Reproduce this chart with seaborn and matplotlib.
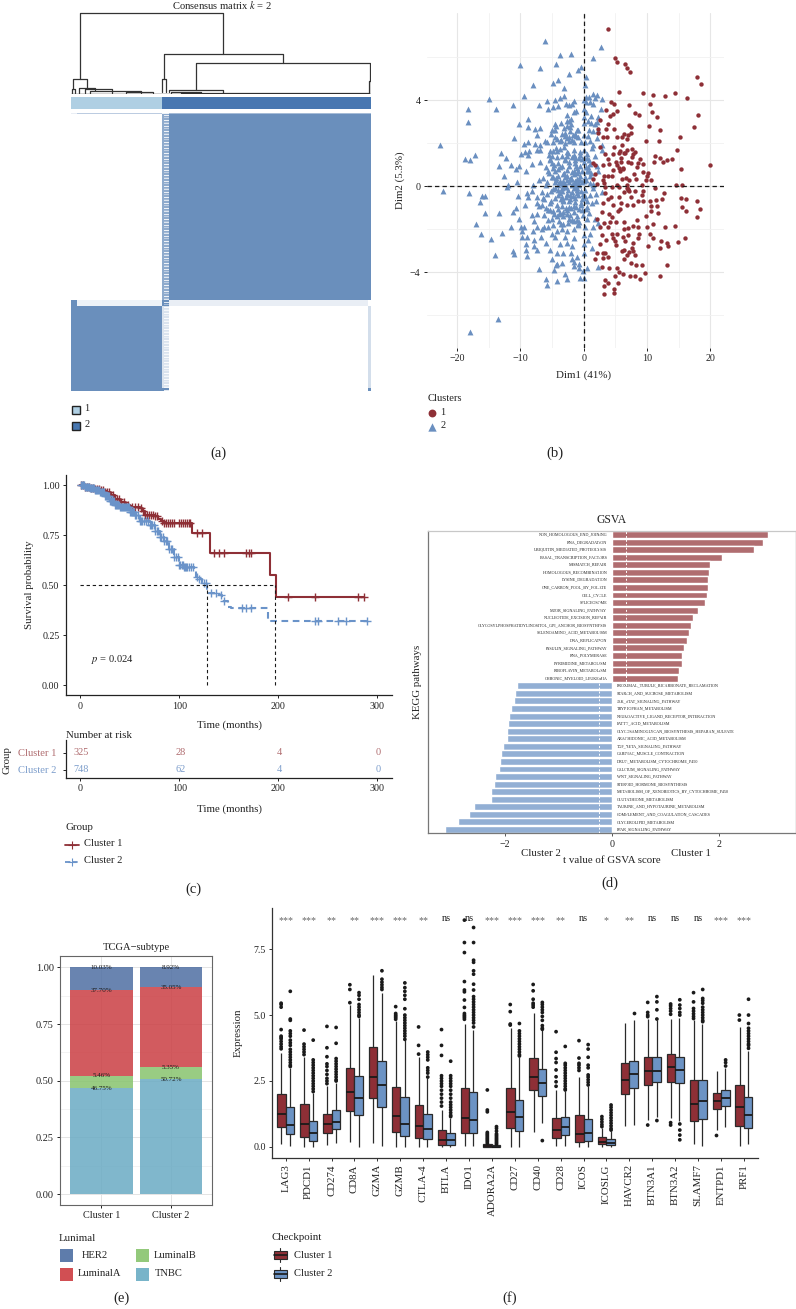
import numpy as np, pandas as pd
import matplotlib
matplotlib.use("Agg")
import matplotlib.pyplot as plt
from matplotlib.patches import Rectangle
from matplotlib.colors import LinearSegmentedColormap
import seaborn as sns

W, H = 796, 1309
sns.set_theme(style="white")
plt.rcParams['font.family'] = ['Liberation Serif', 'DejaVu Sans']
plt.rcParams['mathtext.fontset'] = 'stix'
plt.rcParams['axes.unicode_minus'] = True

RED, BLUE = '#8E2F36', '#6C93C4'
TXT = '#222222'

# ---------- (a) consensus ----------
row_sizes = [1, 186, 6, 82, 3]
col_sizes = [6, 85, 7, 199, 3]
consensus_levels = [[.15, .45, .1, .6, .6],
                    [0, 0, .75, 1, 1],
                    [1, .12, 1, .15, 0],
                    [1, 1, .25, 0, .3],
                    [1, 1, 1, 0, 1]]
streak = [1, 1, .2, 1, .6, 1, 1, .15, 1, .8, .3]
# dendrogram merges: left x, right x, left height, right height, top height
dend_merges = [(9, 152, 18.6, 49.7, 100), (92.7, 212, 18.6, 38.5, 49.7), (125, 298.5, 5, 16, 38.5),
               (90.5, 95, 3, 3, 18.6), (297.5, 300, 1, 1, 16), (98, 152, 2, 1, 5),
               (2, 16, 6, 7.5, 18.6), (0.5, 3.5, 1, 1, 6), (8, 24, 1, 5.5, 7.5), (14, 41, 1.5, 1.5, 6.5),
               (19, 70, 1, 1, 3.5), (55, 82, 1, 1, 2.5), (100, 130, 1, 1, 2.2), (110, 298, 0.5, 1, 1.6)]
group_sizes = [91, 209]
group_names = ['1', '2']
group_colors = ['#AFCFE3', '#4877B1']

# ---------- (b) PCA ----------
red_x = [3.8,5.0,5.3,6.5,6.9,7.3,17.9,18.5,5.5,9.4,10.9,12.9,14.5,16.3,4.3,4.8,7.2,10.4,3.5,5.3,4.7,4.2,8.1,8.8,10.8,11.6,18,2.6,3.9,2.3,3.6,4.8,7.2,7.5,10.3,12.1,17.5,2.3,7.5,6.3,3.1,3.7,5.2,6.05,6.8,7.05,15.2,9.8,11.9,4.8,6.05,2.6,14.8,7.7,6.8,5.7,5.6,8.1,3.4,4.6,6.4,7.8,11.2,12.05,14,13.2,12.6,11.15,20,3.9,5.1,5.95,7.05,7.4,8.9,9.3,1.4,1.75,3.1,5.2,5.5,6.15,5.75,15.3,9.4,10.2,9.95,1.8,3.25,3.8,4.5,1.5,6,7.2,8.25,9.85,10.6,3.1,14.6,15.6,2.15,5.2,6.8,9.15,
 3.4,4.4,5.6,7.05,8.1,9.4,11.3,3.4,4.3,3.9,5.5,6.3,7.5,9.15,10.5,11.4,12.3,12.75,15.4,16.1,17.9,3.1,4.6,5.9,6.8,7.8,8.6,9.3,10.7,11.6,15.5,18.3,2.85,3.95,5.75,10.7,11.75,16.1,2.05,4.4,9.8,17.9,3.2,4.15,5.1,6.35,8.35,10.9,2.6,3.9,6.35,7.05,7.85,8.6,10.05,12.85,14.5,2.85,4.4,5.2,6.25,7.05,8.8,10.5,10.9,15.95,3.6,4.6,6.55,7.85,8.6,12.15,14.95,13.2,2.5,4.95,7.6,10.15,12.05,13.3,6.35,7.85,2.15,3,3.4,7.2,6.8,8.1,1.8,3.1,3.9,6.35,7.45,8.2,9.15,13.1,2.85,4.05,5.2,5.6,6.25,4.95,7.3,8.1,9.7,12.05,8.9,3.4,3.8,5.4,3.25,4.85,4.85,3.25,
 7.0,7.2,6.9,4.0,3.2,4.7,5.9,6.6,7.6,8.5,6.2,6.7,7.9,8.4,5.1,5.4,6.0]
red_y = [7.3,5.95,5.8,5.7,5.5,5.3,5.1,4.75,4.4,4.35,4.25,4.2,4.35,4.1,3.9,3.85,3.8,3.85,3.55,3.5,3.35,3.25,3.4,3.3,3.45,3.2,3.3,3.1,2.9,2.65,2.65,2.65,2.85,2.75,2.8,2.6,2.75,2.5,2.5,2.45,2.3,2.3,2.3,2.3,2.2,2.4,2.3,2.1,2.1,1.85,1.9,1.85,1.7,1.75,1.7,1.65,1.55,1.6,1.5,1.5,1.55,1.5,1.4,1.3,1.25,1.2,1.15,1.15,1.0,1.25,1.15,1.15,1.15,1.1,1.25,1.05,1.1,1.0,1.0,1.0,.85,.8,.7,.8,.65,.6,.5,.55,.5,.5,.5,.35,.35,.3,.35,.3,.3,.3,.05,.05,.1,.05,.05,.05,
 -.05,-.05,-.05,-.15,-.2,-.2,-.1,-.3,-.5,-.6,-.5,-.25,-.5,-.4,-.7,-.65,-.6,-.3,-.55,-.6,-.7,-.8,-.85,-.8,-.85,-.85,-.7,-.7,-.9,-.9,-.95,-1.05,-1.2,-1.3,-1.05,-1.15,-1.25,-1.15,-1.5,-1.45,-1.4,-1.45,-1.7,-1.65,-1.65,-1.65,-1.55,-1.75,-1.9,-1.9,-2,-1.95,-1.85,-1.9,-1.9,-1.9,-1.85,-2.25,-2.2,-2.2,-2.35,-2.25,-2.2,-2.2,-2.4,-2.4,-2.5,-2.4,-2.55,-2.65,-2.4,-2.55,-2.6,-2.65,-2.7,-2.55,-2.85,-2.8,-2.85,-2.8,-2.95,-3,-3.1,-3.1,-3.1,-3.05,-3.2,-3.2,-3.4,-3.35,-3.3,-3.4,-3.55,-3.65,-3.65,-3.65,-3.75,-3.8,-3.8,-4,-4.1,-4.15,-4.15,-4.15,-4.05,-4.15,-4.3,-4.35,-4.5,-4.5,-4.65,-4.8,-4.95,-5.0,
 -.12,-.2,-.08,1.05,.15,.75,1.3,1.55,1.35,1.1,.85,.4,.55,.9,-2.75,-1.15,-3.0]
blue_x = [-6.1,2.7,-3.8,-2,1.4,-10,-6.9,-4.4,-.35,-.85,-2.4,.3,-4.1,-4.9,-8.05,.25,-3.15,1.5,-3.1,-9.5,-15,.4,.9,2.15,-3.7,-4.5,-5.8,-1.5,0,2.85,1.8,-11.1,-7,-2.8,-2.3,-1.9,-4,-4.9,1.5,.35,1,-18.3,-13.8,-5.6,-1.2,.05,2.7,-1.5,.3,-2.7,1.1,2.3,0,-2.05,-8.75,-2.3,.65,2.05,-18.3,-10.2,-4.5,-3.6,-2.05,0,1.1,1.8,-8.75,-6.9,-7.7,-2.7,-4.35,-5.05,-4.5,-3.1,-2.15,-.85,.9,2.2,1.5,-7.4,-5.2,-3.5,-2.95,-1.35,.75,0,-10.95,-4.5,-2.7,-.85,2.05,-22.7,-6.1,-5.75,-4.8,-3.75,-2.4,-1.5,.2,1,-8.75,-9.5,-7.7,-6.9,2.85,1.5,-6.9,-7.4,-8.6,-9.25,-9.95,-5.4,-4.25,-2.7,-1.6,0,1.25,2.85,-13.1,-17.2,-18.75,-17.95,-12.25,-8.75,-5.4,-3.5,-2.7,-1.6,-.6,.45,1.8,-4.25,-11.5,-8.2,-6.9,-5.05,-4,-2.95,-1.35,0,1,-13.4,-10.15,-4.8,-3.75,-2.4,-1.1,-.6,.75,2.05,-10.7,-9.1,-5.6,-4.5,-1.6,-.85,.45,2.3,-12.6,-6.4,-5.05,-4,-2.95,-2.05,-.6,1,-10.5,-7,-5.85,-4.5,-3.3,-2.4,-1.35,0,-12,-7.95,-5.95,-4,-2.95,-1.9,1.5,
 -22.3,-18.15,-16.05,-15.6,-16.35,-12.05,-10.4,-9,-8.2,-7.4,-6.6,-5.75,-4.8,-3.75,-2.85,-1.9,-1.1,.2,1.5,2.85,-8.75,-9.25,-7.4,-6.6,-5.4,-4.25,-3.2,-2.3,-1.35,0,1,1.95,-2.7,-3.5,-10.75,-11.1,-15.6,-13.4,-8.2,-7.3,-6.25,-4.9,-3.75,-2.7,-1.55,-.3,-10.15,-5.6,-5.05,-4.25,-3.2,-2.15,-1.1,.45,1.8,-17,-11.5,-9.95,-9.4,-7.4,-6.25,-5.6,.2,1.5,2.3,-.85,-12.9,-16.2,-9.8,-8.05,-6.8,-5.05,-4.25,-3.5,-2.7,-1.6,0,1,-14.7,-8.9,-9.8,-7.8,-5.95,-4.5,-2.95,-1.6,.75,-9.1,-7.8,-7.3,-5.3,-3.75,-2.7,-1.9,0,1.25,-11.2,-11,-9.1,-8.9,-14.05,-4.25,-3.2,-2.05,0,-5.05,-3.5,-4.25,-1.9,-1.1,-1.5,-.7,-7,-4.7,-4.35,-1.5,-.7,.45,2.3,-.15,-2.95,-6,-.6,0,-2.6,-4.2,-5.75,-13.5,-17.95,
 -3.1,-2.6,-2.2,-1.8,-1.4,-1,-.6,-.2,.2,-3.4,-2.9,-2.5,-2.1,-1.7,-1.3,-.9,-.5,-.1,.6,-4.1,-3.6,-3.2,-2.8,-2.4,-2,-1.6,-1.2,-.8,-.4,.4,-4.6,-5.2,-3.9,-3.3,-2.7,-2.3,-1.9,-1.5,-1.1,-.7,-.3,1.2,-4.9,-4.3,-3.7,-3.1,-2.5,-1.4,-.6,.1,.8,-5.5,-3,-2.2,-1.8,-1,-.4,1.4,-2.6,-3.6,
 -1.2,-1.5,-1.0,-.9,-1.3,-.7,-1.6,-1.1,-2.0,-3.0,-3.3,-2.6,-2.2,-3.8,-4.4,-5.0,-5.3,-4.7,-4.1,-3.5,-2.9,-2.4,-1.9,-1.4,-.8,-.2,.5,-6.0,-5.5,-4.9,-4.4,-3.8,-3.2,-2.6,-2.0,-1.4,-.8,-.2,.4,1.0,-6.5,-5.2,-4.6,-4.0,-3.4,-2.8,-2.2,-1.6,-1.0,-.4,.2,-5.9,-5.3,-4.7,-4.1,-3.5,-3.9,-3.3,-2.5,-1.9,-.9,.6,1.3,1.9,.9,-.1,-3.0,-3.6,-4.2,-2.4,-1.7,-1.2,.3,.8,-4.8,-5.6,-6.2,-7.1,-7.9,-6.6]
blue_y = [6.75,6.5,6.1,6.15,5.95,5.65,5.5,5.7,5.55,5.4,5.2,5.1,4.95,4.8,4.7,4.7,4.55,4.3,4.2,4.2,4.05,4.15,4.15,4.25,4.1,4,3.95,3.95,4,4.05,4.1,3.8,3.8,3.85,3.8,3.85,3.75,3.7,3.85,3.9,3.9,3.6,3.6,3.6,3.5,3.6,3.6,3.45,3.45,3.3,3.25,3.2,3.2,3.15,3.15,3.05,3.05,3,3,2.9,2.9,2.95,2.9,2.95,2.95,2.9,2.75,2.7,2.65,2.8,2.8,2.6,2.6,2.7,2.75,2.6,2.6,2.6,2.55,2.4,2.45,2.45,2.35,2.45,2.35,2.4,2.25,2.3,2.25,2.3,2.25,1.9,2.1,2.05,2.05,2.1,2.1,2.05,2.05,2.1,2.05,1.95,1.95,1.9,1.9,1.9,1.7,1.7,1.65,1.6,1.5,1.65,1.65,1.6,1.7,1.7,1.8,1.7,1.55,1.45,1.25,1.2,1.3,1.45,1.25,1.4,1.4,1.45,1.45,1.5,1.4,1.35,1,1.05,1.15,1.1,1.1,1.2,1.1,1.15,1.05,.95,.95,.85,.9,.95,.85,.95,.9,.95,.8,.7,.7,.7,.7,.7,.7,.7,.5,.4,.45,.5,.45,.4,.5,.5,.2,.3,.2,.2,.25,.2,.25,.25,.05,.05,.05,.05,.05,.05,.05,
 -.2,-.3,-.45,-.45,-.75,-.02,-.45,-.3,-.2,-.5,-.25,-.35,-.12,-.3,-.5,-.25,-.15,-.15,-.1,-.25,-.5,-.85,-.8,-.85,-.8,-.85,-.65,-.7,-.55,-.55,-.4,-.35,-.35,-.5,-1,-1.2,-1.25,-1.25,-1.35,-1.3,-1.35,-1.15,-1.25,-1.1,-1.2,-1.1,-1.5,-1.55,-1.5,-1.4,-1.4,-1.35,-1.4,-1.5,-1.5,-1.75,-1.9,-1.9,-1.9,-1.9,-1.9,-1.9,-1.9,-1.9,-1.7,-1.75,-2.15,-2.2,-2.1,-2.1,-2.35,-2.2,-2.1,-2,-2.1,-2,-2.25,-2.2,-2.45,-2.35,-2.35,-2.5,-2.65,-2.35,-2.35,-2.4,-2.5,-2.7,-2.8,-2.95,-2.95,-2.7,-2.65,-2.8,-2.7,-2.85,-3,-3.15,-2.95,-3.25,-3.2,-3.1,-3.1,-3.1,-3.1,-3.4,-3.55,-3.6,-3.4,-3.3,-3.5,-3.6,-3.85,-3.9,-3.65,-3.7,-3.8,-3.8,-3.75,-3.95,-4.1,-4.3,-4.25,-4.25,-4.3,-4.4,-4.6,-6.15,-6.8,
 .6,.75,.35,.65,.15,.6,.3,.7,.45,-.1,-.05,-.15,-.6,-.45,-.75,-.4,-.85,-.35,-.7,-.15,-.6,-.7,-1,-.95,-1,-.9,-.95,-1.05,-.8,-1.05,-.55,-.7,-1.3,-1.2,-1.3,-1.5,-1.55,-1.6,-1.55,-1.65,-.6,.6,1.65,1.8,1.75,1.85,1.55,1.35,1.6,1.3,1.2,1.45,2.5,2.55,2.15,2.6,2.05,.1,3.05,-1.75,
 .95,.55,.35,.1,.05,.3,.15,-.1,.4,.1,.55,.5,.35,.15,.4,1.4,1.2,1.0,.8,.95,1.25,1.15,1.35,1.2,1.3,1.25,1.3,.9,.6,.45,.3,.25,.1,.3,.35,.1,.05,.2,.3,.15,-.55,-.2,-.1,-.4,-.2,-.05,-.4,-.1,-.3,-.2,-.45,-1.0,-1.1,-1.3,-1.05,-.9,-1.6,-1.75,-1.7,-1.55,-1.8,-.95,-.8,-.7,-1.25,-1.35,2.0,2.15,2.2,2.3,2.4,2.35,.9,.7,-1.8,-1.1,-.6,-.9,-1.6,-2.0]

# ---------- (c) survival ----------
km1_t = [0,5,10,15,20,25,30,35,40,45,50,60,62,65,75,78,82,85,112.5,131.3,191.6,197.6,287]
km1_s = [1,.99,.985,.98,.975,.965,.95,.93,.915,.90,.89,.885,.87,.85,.845,.83,.82,.81,.76,.66,.55,.44,.44]
km2_t = [0,5,10,15,20,25,30,35,40,50,55,60,70,75,80,85,90,95,100,105,115,117,120,123,128,130,140,143,149,152,190,193,290]
km2_s = [1,.99,.985,.975,.965,.945,.92,.90,.89,.865,.85,.82,.80,.77,.74,.72,.68,.64,.60,.59,.585,.54,.53,.51,.48,.46,.45,.42,.39,.385,.33,.32,.32]
cens1 = [1,3,5,7,9,11,13,15,17,19,21,23,25,27,29,31,33,35,37,39,41,44,46,48,52,55,58,61,63,65,67,69,71,73,75,77,83,85,87,89,91,93,95,100,102,104,106,108,110,111,118,123,135,140,145,167,170,172,210,237,280,287]
cens2 = [1,2,3,4,5,6,7,8,9,10,11,12,13,14,15,16,17,18,19,20,21,22,23,24,25,26,27,28,29,30,31,32,33,34,35,36,37,38,39,40,41,42,43,44,45,46,47,48,49,50,51,52,53,54,55,56,58,60,61,62,64,66,68,70,71,72,74,75,77,78,80,82,84,85,87,88,90,92,93,95,97,99,100,101,103,104,105,106,107,108,110,112,114,118,120,125,127,132,137,142,145,163,167,172,237,240,260,268,290]
median_times = [128, 197]
risk_ticks = [0, 100, 200, 300]
risk1 = [325, 28, 4, 0]
risk2 = [748, 62, 4, 0]

# ---------- (d) GSVA ----------
path_pos = ['NON_HOMOLOGOUS_END_JOINING','RNA_DEGRADATION','UBIQUITIN_MEDIATED_PROTEOLYSIS','BASAL_TRANSCRIPTION_FACTORS','MISMATCH_REPAIR','HOMOLOGOUS_RECOMBINATION','LYSINE_DEGRADATION','ONE_CARBON_POOL_BY_FOLATE','CELL_CYCLE','SPLICEOSOME','MTOR_SIGNALING_PATHWAY','NUCLEOTIDE_EXCISION_REPAIR','GLYCOSYLPHOSPHATIDYLINOSITOL_GPI_ANCHOR_BIOSYNTHESIS','SELENOAMINO_ACID_METABOLISM','DNA_REPLICATION','INSULIN_SIGNALING_PATHWAY','RNA_POLYMERASE','PYRIMIDINE_METABOLISM','RIBOFLAVIN_METABOLISM','CHRONIC_MYELOID_LEUKEMIA']
val_pos = [2.90,2.81,2.65,2.04,1.83,1.80,1.79,1.78,1.76,1.74,1.61,1.51,1.47,1.43,1.39,1.34,1.30,1.30,1.25,1.23]
path_neg = ['PROXIMAL_TUBULE_BICARBONATE_RECLAMATION','STARCH_AND_SUCROSE_METABOLISM','JAK_STAT_SIGNALING_PATHWAY','TRYPTOPHAN_METABOLISM','NEUROACTIVE_LIGAND_RECEPTOR_INTERACTION','FATTY_ACID_METABOLISM','GLYCOSAMINOGLYCAN_BIOSYNTHESIS_HEPARAN_SULFATE','ARACHIDONIC_ACID_METABOLISM','TGF_BETA_SIGNALING_PATHWAY','CARDIAC_MUSCLE_CONTRACTION','DRUG_METABOLISM_CYTOCHROME_P450','CALCIUM_SIGNALING_PATHWAY','WNT_SIGNALING_PATHWAY','STEROID_HORMONE_BIOSYNTHESIS','METABOLISM_OF_XENOBIOTICS_BY_CYTOCHROME_P450','GLUTATHIONE_METABOLISM','TAURINE_AND_HYPOTAURINE_METABOLISM','COMPLEMENT_AND_COAGULATION_CASCADES','GLYCEROLIPID_METABOLISM','PPAR_SIGNALING_PATHWAY']
val_neg = [-1.77,-1.81,-1.84,-1.88,-1.92,-1.94,-1.96,-1.96,-2.03,-2.07,-2.09,-2.12,-2.18,-2.2,-2.26,-2.26,-2.57,-2.68,-2.87,-3.12]

# ---------- (e) subtype ----------
subtypes = ['HER2', 'LuminalA', 'LuminalB', 'TNBC']
clusters = ['Cluster 1', 'Cluster 2']
pct_c1 = [10.09, 37.70, 5.46, 46.75]
pct_c2 = [8.92, 35.05, 5.35, 50.72]
lab_c1 = ['10.03%', '37.70%', '5.46%', '46.75%']
lab_c2 = ['8.92%', '35.05%', '5.35%', '50.72%']
sub_fill = ['#4F6FA2', '#CB3E43', '#87C46D', '#6AABC3']
sub_swatch = ['#5E7CAB', '#D14F53', '#93C97B', '#78B4C9']

# ---------- (f) checkpoints ----------
genes = ['LAG3','PDCD1','CD274','CD8A','GZMA','GZMB','CTLA-4','BTLA','IDO1','ADORA2A','CD27','CD40','CD28','ICOS','ICOSLG','HAVCR2','BTN3A1','BTN3A2','SLAMF7','ENTPD1','PRF1']
sig = ['***','***','**','**','***','***','**','ns','ns','***','***','***','**','ns','*','**','ns','ns','ns','***','***']
lo1 = [.11,.01,.06,.18,.14,.01,.01,.01,.05,0,0,.57,.04,0,0,.78,1.02,1.1,.1,.64,.05]
q1_1 = [.77,.39,.54,1.38,1.84,.55,.35,.08,.53,0,.7,2.17,.33,.19,.1,2.0,2.36,2.47,.97,1.43,.81]
med1 = [1.24,.86,.86,2.07,2.65,1.16,.8,.27,1.11,.03,1.34,2.66,.64,.5,.2,2.54,2.89,3.02,1.64,1.74,1.53]
q3_1 = [2.0,1.63,1.26,3.0,3.8,2.26,1.6,.63,2.22,.1,2.25,3.38,1.09,1.2,.37,3.17,3.4,3.51,2.52,2.03,2.36]
hi1 = [3.57,3.42,2.31,5.38,6.53,4.77,3.4,1.4,4.68,.13,4.5,5.06,2.16,2.66,.72,4.71,4.85,4.84,4.8,2.88,4.56]
lo2 = [.03,.01,.14,.01,.05,.01,.01,.01,.05,0,0,.9,.04,0,0,.83,1.15,.97,.04,.77,.1]
q1_2 = [.48,.24,.67,1.2,1.5,.41,.3,.08,.52,0,.62,1.94,.45,.21,.06,2.22,2.45,2.41,1.06,1.55,.71]
med2 = [.83,.52,.96,1.87,2.35,.86,.67,.27,1.02,.01,1.14,2.42,.76,.54,.15,2.77,2.89,2.9,1.74,1.86,1.21]
q3_2 = [1.5,.97,1.39,2.7,3.25,1.88,1.24,.52,2.1,.06,1.77,2.94,1.14,1.07,.29,3.27,3.4,3.42,2.52,2.15,1.9]
hi2 = [3.0,2.05,2.44,4.87,5.85,4.05,2.6,1.1,4.43,.1,3.42,4.43,2.13,2.3,.6,4.81,4.8,4.9,4.68,2.98,3.64]
out1 = [[5.45,5.4,5.3,4.45,4.2,4.15,4.1,4.0,3.9,3.8,3.72],[4.43,3.9,3.8,3.7,3.6,3.5],[4.57,3.76,3.42,3.15,3.05,2.9,2.75,2.6,2.5,2.4],[6.15,5.97,5.47],[],[5.32,5.06,5.0,4.95,4.9,4.84],[4.55,3.85,3.52],[4.45,3.85,3.47,2.7,2.6,2.5,2.4,2.3,2.15,2.0,1.85,1.7,1.55],[8.6,7.75,7.37,6.27,5.95,5.88,5.57,5.29,5.06,5.0,4.95,4.9,4.84],[2.16,1.4,1.33,.55,.5,.45,.4,.35,.3,.25,.2,.14],[5.4,5.13,4.66,4.62],[6.16,5.92,5.6,5.45,5.38,5.3],[4.37,3.59,3.35,3.2,2.92,2.66,2.47,2.3],[4.03,3.37,3.17,3.1,3.0,2.9],[1.15,1.05,.95,.85,.77],[],[5.48,5.1,5.0,4.94,.83],[5.42,5.35,5.25,5.15,5.03,.92,.83],[5.85,5.5,5.25,5.15,5.05,4.95,4.87],[.47],[5.0,4.81]]
out2 = [[5.9,4.85,4.8,4.4,4.3,4.2,4.05,3.95,3.85,3.7,3.6,3.5,3.4,3.3,3.2,3.1,3.05],[4.05,3.3,3.2,3.1,3.0,2.9,2.8,2.7,2.6,2.5,2.4,2.3,2.2,2.1],[4.53,3.93,3.35,3.25,3.15,3.05,2.95,2.85,2.75,2.65,2.55,2.5],[5.85,5.75,5.6,5.4,5.3,5.2,5.1,5.0,4.95],[6.68,6.36,6.25,6.15,6.05,5.97],[6.22,6.04,5.9,5.75,5.6,5.24,5.0,4.9,4.8,4.7,4.6,4.5,4.4,4.3,4.2,4.08],[3.6,3.5,3.4,3.3,3.0,2.9,2.8,2.65],[3.25,2.7,2.6,2.5,2.4,2.3,2.15,2.0,1.85,1.7,1.6,1.5,1.4,1.3,1.2,1.15],[8.32,7.75,7.08,7.0,6.68,6.55,6.17,5.95,5.7,5.6,5.5,5.4,5.3,5.2,5.1,5.0,4.9,4.8,4.7,4.55],[.77,.7,.6,.5,.45,.4,.35,.3,.25,.2,.15,.1],[4.68,4.4,4.3,4.2,4.1,4.0,3.9,3.8,3.7,3.6,3.5,3.45],[.24,5.48,5.4,5.3,5.2,5.1,4.95,4.8,4.6,4.5,4.46],[3.81,3.17,3.1,3.0,2.9,2.8,2.7,2.6,2.5,2.4,2.3,2.2,2.16],[3.88,3.71,3.4,3.1,3.0,2.73,2.65,2.55,2.45,2.35],[1.59,1.5,1.4,1.3,1.2,1.1,1.0,.9,.8,.7,.64],[5.08],[5.7,5.5,5.2,4.85,1.0],[5.58,5.38,5.25,5.1,5.0,.87,.64,.45,.27],[5.97,5.63,5.55,5.45,5.3,5.2,5.1,5.0,4.9,4.8,4.75],[3.3,3.2,3.07],[5.6,5.0,4.68,4.5,4.4,4.3,4.2,4.1,4.0,3.9,3.85,3.74]]


fig = plt.figure(figsize=(W/100, H/100), dpi=100, facecolor='white')

def axpx(x0, y0, x1, y1, **kw):
    return fig.add_axes([x0/W, 1-y1/H, (x1-x0)/W, (y1-y0)/H], **kw)

def T(x, y, s, size=8, ha='center', va='center', color=TXT, **kw):
    fig.text(x/W, 1-y/H, s, fontsize=size, ha=ha, va=va, color=color, **kw)

ov = axpx(0, 0, W, H)
ov.set_xlim(0, W); ov.set_ylim(H, 0); ov.axis('off'); ov.set_zorder(10); ov.patch.set_alpha(0)

# ---- panel a
T(222, 5, r'Consensus matrix $k$ = 2', size=7.6)
ax = axpx(71, 5, 371, 94)
ax.set_xlim(0, 300); ax.set_ylim(0, 110.5); ax.axis('off')
for xl, xr, hl, hr, ht in dend_merges:
    sns.lineplot(x=[xl, xl, xr, xr], y=[hl, ht, ht, hr], ax=ax, color='#333333', lw=0.9, sort=False,
                 errorbar=None, estimator=None)
sns.lineplot(x=[0, 300], y=[0.5, 0.5], ax=ax, color='#222222', lw=1.0, errorbar=None, estimator=None)

ax = axpx(71, 97, 371, 109)
band = np.repeat(np.arange(len(group_sizes)), group_sizes)[None, :]
sns.heatmap(band, ax=ax, cmap=group_colors, cbar=False, xticklabels=False, yticklabels=False)

ax = axpx(71, 113, 371, 391)
M = np.repeat(np.repeat(np.array(consensus_levels), row_sizes, axis=0), col_sizes, axis=1)
s = np.resize(streak, M.shape[0])
M[:, 93:98] = M[:, 93:98] * s[:, None]
cm = LinearSegmentedColormap.from_list('c', ['#FFFFFF', '#6A8FBC'])
sns.heatmap(M, ax=ax, cmap=cm, vmin=0, vmax=1, cbar=False, xticklabels=False, yticklabels=False)

for y, c, lab in zip([410, 426], group_colors, group_names):
    ov.add_patch(Rectangle((71.5, y-4), 8.5, 8, fc=c, ec='#222222', lw=1))
    T(87, y-1.5, lab, size=7.5)
T(218, 453, '(a)', size=10.5)

# ---- panel b
ax = axpx(426.7, 13, 724, 348)
ax.set_xlim((426.7-583.7)/6.33, (724-583.7)/6.33)
ax.set_ylim((186.3-348)/21.5, (186.3-13)/21.5)
sns.scatterplot(x=blue_x, y=blue_y, ax=ax, marker='^', color='#6A8FC0', s=18, linewidth=0, zorder=3)
sns.scatterplot(x=red_x, y=red_y, ax=ax, marker='o', color='#8E2F36', s=10, linewidth=0, zorder=3)
ax.axhline(0, color='k', ls=(0, (3.5, 2.5)), lw=0.9, zorder=4)
ax.axvline(0, color='k', ls=(0, (3.5, 2.5)), lw=0.9, zorder=4)
ax.set_xticks([-20, -10, 0, 10, 20])
ax.set_xticks([-15, -5, 5, 15], minor=True)
ax.set_yticks([-4, 0, 4])
ax.set_yticks([-6, -2, 2, 6], minor=True)
ax.grid(True, which='major', color='#E6E6E6', lw=0.8)
ax.grid(True, which='minor', color='#F1F1F1', lw=0.6)
ax.set_axisbelow(True)
sns.despine(ax=ax, left=True, bottom=True)
ax.tick_params(axis='both', which='major', length=2.5, width=0.7, color='#222222', labelsize=7.2, labelcolor=TXT,
               bottom=True, left=True, pad=2)
ax.tick_params(which='minor', length=0)
T(583, 375.5, 'Dim1 (41%)', size=7.8)
T(400, 180, 'Dim2 (5.3%)', size=7.8, rotation=90)
T(428, 398.7, 'Clusters', size=7.6, ha='left')
sns.scatterplot(x=[432], y=[413], ax=ov, marker='o', color='#8E2F36', s=32, linewidth=0, legend=False)
sns.scatterplot(x=[432], y=[427], ax=ov, marker='^', color='#6A8FC0', s=36, linewidth=0, legend=False)
ov.set_xlim(0, W); ov.set_ylim(H, 0)
T(443, 412.5, '1', size=7.5)
T(443, 426, '2', size=7.5)
T(555, 453, '(b)', size=10.5)

# ---- panel c
ax = axpx(65.7, 475, 391.7, 695.3)
ax.set_xlim((65.7-80.3)/0.99, (391.7-80.3)/0.99)
ax.set_ylim((685-695.3)/199.7, (685-475)/199.7)
def surv(ts, ss, q):
    return np.array(ss)[np.searchsorted(ts, q, side='right')-1]
sns.lineplot(x=km1_t, y=km1_s, ax=ax, color='#8E2F36', lw=1.5, drawstyle='steps-post', errorbar=None, estimator=None)
sns.lineplot(x=km2_t, y=km2_s, ax=ax, color='#6A93C9', lw=1.5, drawstyle='steps-post', ls=(0, (3.2, 2.2)), errorbar=None, estimator=None)
sns.scatterplot(x=cens1, y=surv(km1_t, km1_s, cens1), ax=ax, marker='+', color='#8E2F36', s=30, linewidth=1.0, zorder=3)
sns.scatterplot(x=cens2, y=surv(km2_t, km2_s, cens2), ax=ax, marker='+', color='#6A93C9', s=30, linewidth=1.0, zorder=4)
ax.plot([0, max(median_times)], [.5, .5], color='k', ls=(0, (3, 2.5)), lw=0.8, zorder=5)
for m in median_times:
    ax.plot([m, m], [0, .5], color='k', ls=(0, (3, 2.5)), lw=0.8, zorder=5)
ax.set_xticks(risk_ticks); ax.set_yticks([0, .25, .5, .75, 1])
ax.set_yticklabels(['0.00', '0.25', '0.50', '0.75', '1.00'])
sns.despine(ax=ax)
for sp in ['left', 'bottom']:
    ax.spines[sp].set_color('#222222'); ax.spines[sp].set_linewidth(0.9)
ax.tick_params(length=2.5, width=0.7, color='#222222', labelsize=7.2, labelcolor=TXT, pad=2, left=True, bottom=True)
T(29, 585, 'Survival probability', size=7.8, rotation=90)
T(112.5, 659, r'$p$ = 0.024', size=7.6)
T(229, 725.6, 'Time (months)', size=7.8)
T(66, 735, 'Number at risk', size=7.8, ha='left')
ax = axpx(65.7, 740, 391.7, 778)
ax.set_xlim((65.7-80.3)/0.99, (391.7-80.3)/0.99)
ax.set_ylim(-0.5, 1.74)
ax.set_yticks([1, 0]); ax.set_yticklabels(clusters)
ax.set_xticks(risk_ticks)
sns.despine(ax=ax)
for sp in ['left', 'bottom']:
    ax.spines[sp].set_color('#222222'); ax.spines[sp].set_linewidth(0.9)
ax.tick_params(length=2.5, width=0.7, color='#222222', labelsize=7.2, labelcolor=TXT, pad=2, left=True, bottom=True)
ax.tick_params(axis='y', labelsize=7.6, pad=4)
rc = ['#B06D70', '#7C9DCB']
for lab, c in zip(ax.get_yticklabels(), rc):
    lab.set_color(c)
for t, a, b in zip(risk_ticks, risk1, risk2):
    ax.text(t+1, 1, str(a), color=rc[0], ha='center', va='center', fontsize=7.4)
    ax.text(t+1, 0, str(b), color=rc[1], ha='center', va='center', fontsize=7.4)
T(6.5, 760, 'Group', size=7.8, rotation=90)
T(229, 809, 'Time (months)', size=7.8)
T(66, 828, 'Group', size=7.8, ha='left')
for y, c, lab, ls in zip([844.5, 861.5], ['#8E2F36', '#6A93C9'], clusters, ['-', (0, (3, 1))]):
    ov.plot([65, 79], [y, y], color=c, lw=1.3, ls=ls)
    ov.plot([72], [y], marker='+', color=c, ms=6, mew=0.8)
    T(84, y-1, lab, size=7.6, ha='left')
T(193, 889, '(c)', size=10.5)

# ---- panel d
T(611.7, 520, 'GSVA', size=8.4)
ax = axpx(428.3, 530.7, 795.5, 833.3)
paths = path_pos + path_neg
vals = val_pos + val_neg
dfd = pd.DataFrame({'p': paths, 'v': vals, 'g': ['pos']*len(path_pos) + ['neg']*len(path_neg)})
sns.barplot(data=dfd, y='p', x='v', hue='g', palette={'pos': '#B06D70', 'neg': '#92AFD4'}, dodge=False, width=0.92,
            ax=ax, legend=False, orient='h', saturation=1)
ax.set_xlim(-3.43, 3.42); ax.set_ylim(39.5, -0.5)
ax.axvline(.25, color='white', ls=(0, (2, 2)), lw=0.7, zorder=5)
ax.axvline(-.25, color='white', ls=(0, (2, 2)), lw=0.7, zorder=5)
ax.set_xticks([-2, 0, 2]); ax.set_yticks([])
ax.set_xlabel(''); ax.set_ylabel('')
ax.tick_params(axis='x', length=2.5, width=0.7, color='#555555', labelsize=7.2, labelcolor=TXT, pad=2, bottom=True)
for n, sp in ax.spines.items():
    sp.set_color('#C8C8C8' if n == 'top' else '#777777'); sp.set_linewidth(0.9); sp.set_visible(True)
for i, (p, v) in enumerate(zip(paths, vals)):
    ax.text(-.09 if v > 0 else .09, i, p, fontsize=3.0, ha='right' if v > 0 else 'left', va='center', color='#222222')
T(540.7, 854, 'Cluster 2', size=7.8)
T(691, 854, 'Cluster 1', size=7.8)
T(612, 860.7, 't value of GSVA score', size=7.8)
T(418, 682, 'KEGG pathways', size=7.8, rotation=90)
T(610, 883, '(d)', size=10.5)

# ---- panel e
T(136, 948, 'TCGA\u2212subtype', size=7.6)
ax = axpx(60, 956, 212, 1205)
dfe = pd.DataFrame({'cluster': [clusters[0]]*4 + [clusters[1]]*4, 'subtype': subtypes*2,
                    'frac': [v/100 for v in pct_c1 + pct_c2]})
sns.histplot(data=dfe, x='cluster', weights='frac', hue='subtype', hue_order=subtypes, multiple='stack',
             palette=dict(zip(subtypes, sub_fill)), discrete=True, shrink=0.9, alpha=0.85, linewidth=0, ax=ax, legend=False)
ax.set_xlim(-.595, 1.59); ax.set_ylim(-.0485, 1.05)
ax.set_yticks([0, .25, .5, .75, 1]); ax.set_yticklabels(['0.00', '0.25', '0.50', '0.75', '1.00'])
ax.set_yticks([.125, .375, .625, .875], minor=True)
ax.set_xticks([0, 1])
ax.grid(True, which='major', color='#E4E4E4', lw=0.7)
ax.grid(True, which='minor', axis='y', color='#EFEFEF', lw=0.5)
ax.set_axisbelow(True)
ax.set_xlabel(''); ax.set_ylabel('')
ax.tick_params(which='major', length=2.5, width=0.7, color='#222222', labelsize=7.4, labelcolor=TXT, pad=2, left=True, bottom=True)
ax.tick_params(which='minor', length=0)
for sp in ax.spines.values():
    sp.set_color('#666666'); sp.set_linewidth(0.8); sp.set_visible(True)
for i, (pc, lb) in enumerate(zip([pct_c1, pct_c2], [lab_c1, lab_c2])):
    tops = np.cumsum(pc[::-1])[::-1] / 100
    for tp, l in zip(tops, lb):
        ax.text(i, min(tp, 1.0)-0.001, l, ha='center', va='center', fontsize=5, color='k', zorder=6)
T(59, 1238.7, 'Lunimal', size=7.8, ha='left')
swx = [60, 60, 136, 136]; swy = [1249, 1267.5, 1249, 1267.5]
lx = [94.7, 100, 175, 168.7]
order = [0, 1, 2, 3]
for i in order:
    ov.add_patch(Rectangle((swx[i], swy[i]), 13, 13, fc=sub_swatch[i], ec='none'))
    T(lx[i], swy[i]+6.3, subtypes[i], size=7.6)
T(121, 1298, '(e)', size=10.5)

# ---- panel f
ax = axpx(272.3, 908, 757.7, 1158)
rows = []
for i, g in enumerate(genes):
    for c, arrs in zip(clusters, [(lo1, q1_1, med1, q3_1, hi1), (lo2, q1_2, med2, q3_2, hi2)]):
        for a in arrs:
            rows.append((g, c, a[i]))
dff = pd.DataFrame(rows, columns=['gene', 'cluster', 'v'])
sns.boxplot(data=dff, x='gene', y='v', hue='cluster', order=genes, hue_order=clusters, whis=np.inf, showcaps=False,
            palette=[RED, BLUE], width=0.74, gap=0, dodge=True, linewidth=0.9, linecolor='#2A2A2A', saturation=1,
            fliersize=0, ax=ax, legend=False, medianprops={'linewidth': 1.3, 'color': 'k'})
orows = []
for i, g in enumerate(genes):
    orows += [(g, clusters[0], v) for v in out1[i]] + [(g, clusters[1], v) for v in out2[i]]
dfo = pd.DataFrame(orows, columns=['gene', 'cluster', 'v'])
sns.stripplot(data=dfo, x='gene', y='v', hue='cluster', order=genes, hue_order=clusters, dodge=True, jitter=False,
              palette=['k', 'k'], size=2.7, linewidth=0, ax=ax, legend=False, zorder=3)
ax.set_xlim(-.585, 20.6); ax.set_ylim(-.42, 9.06)
ax.set_yticks([0, 2.5, 5, 7.5]); ax.set_yticklabels(['0.0', '2.5', '5.0', '7.5'])
ax.set_xlabel(''); ax.set_ylabel('')
sns.despine(ax=ax)
for sp in ['left', 'bottom']:
    ax.spines[sp].set_color('#333333'); ax.spines[sp].set_linewidth(0.9)
ax.tick_params(length=2.5, width=0.7, color='#333333', labelsize=7.2, labelcolor=TXT, pad=2, left=True, bottom=True)
ax.tick_params(axis='x', labelrotation=90, labelsize=7.8)
for i, s_ in enumerate(sig):
    if s_ == 'ns':
        ax.text(i, 8.68, s_, ha='center', va='center', fontsize=7.4, color=TXT)
    else:
        ax.text(i, 8.58, s_, ha='center', va='center', fontsize=7.2, color='#666666')
T(238, 1033, 'Expression', size=7.8, rotation=90)
T(272, 1237, 'Checkpoint', size=7.8, ha='left')
for y, c, lab in zip([1255, 1273.5], [RED, BLUE], clusters):
    ov.plot([280, 280], [y-7, y+7], color='#2A2A2A', lw=0.8)
    ov.add_patch(Rectangle((273.5, y-4), 13, 8, fc=c, ec='#2A2A2A', lw=0.8, zorder=3))
    ov.plot([273.5, 286.5], [y, y], color='k', lw=1.2, zorder=4)
    T(294, y, lab, size=7.6, ha='left')
T(510, 1298, '(f)', size=10.5)

fig.savefig('out.png', dpi=100, facecolor='white')
